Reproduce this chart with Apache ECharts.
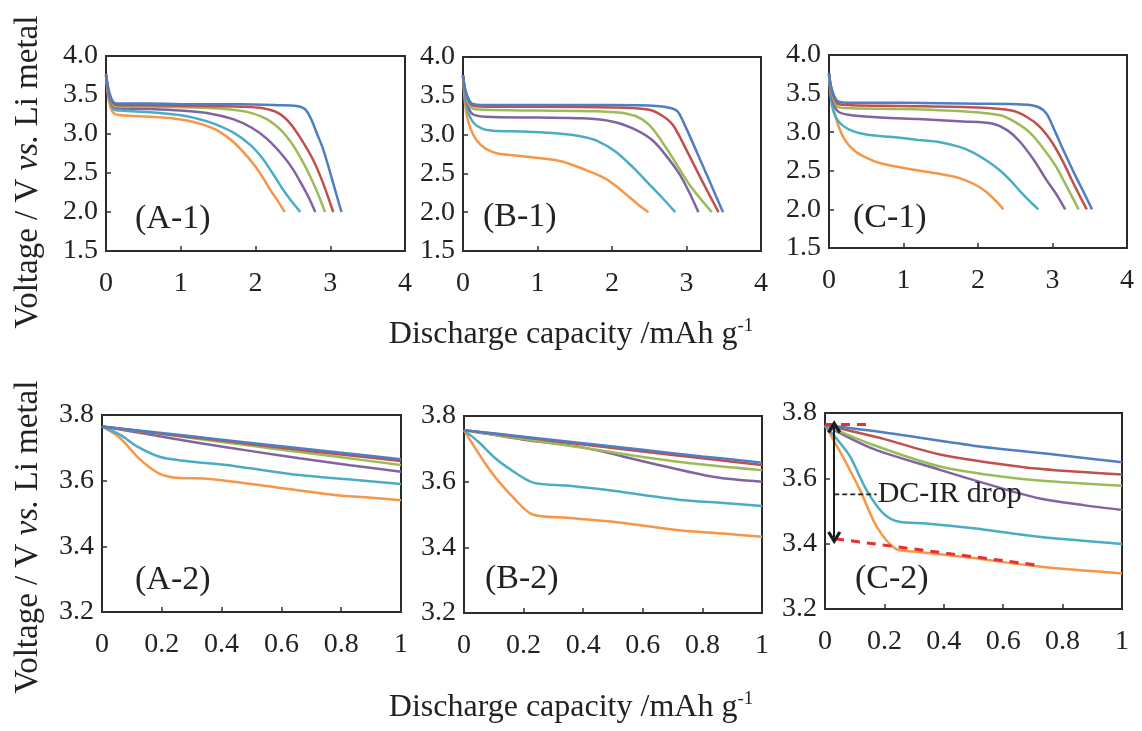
<!DOCTYPE html>
<html>
<head>
<meta charset="utf-8">
<script src="https://cdn.jsdelivr.net/npm/echarts@6/dist/echarts.min.js"></script>
<style>
  html, body { margin: 0; padding: 0; background: #fff; }
  #chart { width: 1142px; height: 731px; }
</style>
</head>
<body>
<div id="chart"></div>
<script>
// ---- Discharge curves, full range (capacity mAh/g, voltage V) ----
const a1Blue   = [[0,3.76],[0.04,3.55],[0.1,3.41],[0.2,3.39],[0.6,3.39],[1.2,3.38],[1.8,3.38],[2.3,3.37],[2.55,3.36],[2.66,3.32],[2.74,3.2],[2.82,3.01],[2.9,2.82],[2.97,2.6],[3.06,2.3],[3.15,2.0]];
const a1Red    = [[0,3.76],[0.04,3.53],[0.1,3.39],[0.2,3.37],[0.6,3.37],[1.2,3.36],[1.8,3.35],[2.1,3.33],[2.3,3.27],[2.46,3.14],[2.6,2.95],[2.77,2.67],[2.9,2.38],[3.04,2.0]];
const a1Green  = [[0,3.76],[0.04,3.52],[0.1,3.37],[0.2,3.35],[0.6,3.35],[1.2,3.34],[1.6,3.32],[1.9,3.28],[2.15,3.19],[2.35,3.04],[2.5,2.86],[2.6,2.7],[2.7,2.52],[2.82,2.27],[2.93,2.0]];
const a1Purple = [[0,3.76],[0.04,3.5],[0.1,3.35],[0.2,3.33],[0.6,3.32],[1.0,3.3],[1.4,3.26],[1.7,3.19],[1.95,3.08],[2.15,2.94],[2.35,2.74],[2.5,2.55],[2.62,2.35],[2.72,2.17],[2.8,2.0]];
const a1Cyan   = [[0,3.76],[0.04,3.47],[0.1,3.32],[0.2,3.3],[0.6,3.28],[1.0,3.24],[1.25,3.19],[1.45,3.13],[1.7,3.02],[1.93,2.86],[2.1,2.68],[2.24,2.48],[2.36,2.3],[2.48,2.14],[2.6,2.0]];
const a1Orange = [[0,3.76],[0.04,3.42],[0.1,3.27],[0.2,3.24],[0.6,3.22],[0.9,3.2],[1.1,3.17],[1.3,3.12],[1.5,3.04],[1.7,2.9],[1.9,2.7],[2.06,2.5],[2.2,2.28],[2.3,2.14],[2.39,2.0]];

const b1Blue   = [[0,3.76],[0.04,3.55],[0.12,3.4],[0.3,3.38],[1,3.38],[2,3.38],[2.6,3.37],[2.8,3.34],[2.88,3.3],[2.95,3.18],[3.2,2.64],[3.49,2.0]];
const b1Red    = [[0,3.76],[0.04,3.53],[0.12,3.38],[0.3,3.36],[1,3.36],[2,3.35],[2.5,3.32],[2.68,3.24],[2.82,3.12],[3.0,2.8],[3.2,2.42],[3.43,2.0]];
const b1Green  = [[0,3.76],[0.04,3.5],[0.12,3.34],[0.3,3.32],[1,3.31],[1.8,3.3],[2.2,3.27],[2.4,3.2],[2.56,3.06],[2.8,2.72],[3.05,2.34],[3.34,2.0]];
const b1Purple = [[0,3.76],[0.04,3.47],[0.12,3.27],[0.3,3.23],[1,3.22],[1.6,3.21],[2.0,3.17],[2.3,3.07],[2.55,2.92],[2.75,2.7],[2.9,2.5],[3.03,2.27],[3.16,2.0]];
const b1Cyan   = [[0,3.76],[0.04,3.4],[0.12,3.18],[0.25,3.08],[0.4,3.05],[0.8,3.04],[1.2,3.02],[1.57,2.98],[1.8,2.92],[2.05,2.78],[2.28,2.58],[2.5,2.36],[2.68,2.18],[2.85,2.0]];
const b1Orange = [[0,3.76],[0.04,3.3],[0.1,3.08],[0.18,2.93],[0.3,2.82],[0.45,2.76],[0.7,2.73],[0.9,2.71],[1.3,2.66],[1.66,2.54],[1.9,2.44],[2.05,2.34],[2.2,2.22],[2.35,2.1],[2.49,2.0]];

const c1Blue   = [[0,3.76],[0.04,3.55],[0.12,3.4],[0.3,3.38],[1,3.38],[2,3.37],[2.6,3.36],[2.8,3.33],[2.92,3.24],[3.02,3.04],[3.15,2.76],[3.3,2.45],[3.42,2.22],[3.53,2.0]];
const c1Red    = [[0,3.76],[0.04,3.53],[0.12,3.37],[0.3,3.35],[1,3.34],[2,3.32],[2.45,3.28],[2.65,3.2],[2.83,3.07],[3.0,2.86],[3.15,2.6],[3.3,2.3],[3.46,2.0]];
const c1Green  = [[0,3.76],[0.04,3.5],[0.12,3.33],[0.3,3.31],[1,3.3],[1.8,3.27],[2.3,3.22],[2.5,3.13],[2.7,2.99],[2.9,2.76],[3.05,2.55],[3.2,2.28],[3.35,2.0]];
const c1Purple = [[0,3.76],[0.04,3.45],[0.12,3.27],[0.3,3.22],[0.7,3.19],[1.2,3.17],[1.8,3.14],[2.2,3.11],[2.4,3.02],[2.56,2.88],[2.75,2.64],[2.92,2.38],[3.05,2.2],[3.17,2.0]];
const c1Cyan   = [[0,3.76],[0.04,3.35],[0.12,3.15],[0.28,3.03],[0.5,2.97],[0.82,2.94],[1.2,2.9],[1.49,2.87],[1.75,2.81],[1.93,2.74],[2.12,2.63],[2.3,2.5],[2.45,2.36],[2.56,2.24],[2.7,2.1],[2.81,2.0]];
const c1Orange = [[0,3.76],[0.03,3.45],[0.1,3.16],[0.2,2.92],[0.33,2.77],[0.5,2.67],[0.68,2.6],[1.04,2.53],[1.49,2.46],[1.7,2.42],[1.85,2.37],[2.0,2.3],[2.12,2.22],[2.25,2.1],[2.34,2.0]];

// ---- Initial part of discharge (0 - 1 mAh/g) ----
const a2Blue   = [[0,3.765],[0.2,3.745],[0.4,3.725],[0.6,3.705],[0.8,3.685],[1,3.665]];
const a2Red    = [[0,3.765],[0.2,3.743],[0.4,3.722],[0.6,3.7],[0.8,3.68],[1,3.66]];
const a2Green  = [[0,3.765],[0.2,3.742],[0.4,3.718],[0.6,3.694],[0.8,3.671],[1,3.648]];
const a2Purple = [[0,3.765],[0.15,3.742],[0.33,3.714],[0.5,3.69],[0.66,3.668],[0.83,3.647],[1,3.627]];
const a2Cyan   = [[0,3.765],[0.06,3.74],[0.12,3.703],[0.195,3.672],[0.28,3.66],[0.44,3.645],[0.66,3.617],[0.85,3.602],[1,3.59]];
const a2Orange = [[0,3.765],[0.06,3.73],[0.127,3.665],[0.195,3.62],[0.26,3.608],[0.35,3.606],[0.55,3.584],[0.77,3.557],[0.9,3.548],[1,3.54]];

const b2Blue   = [[0,3.757],[0.2,3.737],[0.4,3.717],[0.6,3.697],[0.8,3.677],[1,3.658]];
const b2Red    = [[0,3.757],[0.2,3.735],[0.4,3.713],[0.6,3.692],[0.8,3.671],[1,3.651]];
const b2Green  = [[0,3.757],[0.2,3.73],[0.4,3.703],[0.6,3.675],[0.8,3.652],[1,3.635]];
const b2Purple = [[0,3.757],[0.2,3.728],[0.39,3.706],[0.61,3.66],[0.84,3.614],[1,3.6]];
const b2Cyan   = [[0,3.757],[0.05,3.72],[0.1,3.675],[0.143,3.645],[0.23,3.598],[0.345,3.588],[0.5,3.572],[0.72,3.545],[0.87,3.535],[1,3.526]];
const b2Orange = [[0,3.757],[0.087,3.635],[0.165,3.552],[0.23,3.5],[0.345,3.49],[0.5,3.478],[0.72,3.452],[0.87,3.442],[1,3.432]];

const c2Blue   = [[0,3.763],[0.2,3.74],[0.5,3.70],[0.75,3.675],[1,3.649]];
const c2Red    = [[0,3.763],[0.2,3.72],[0.387,3.673],[0.67,3.634],[0.85,3.62],[1,3.612]];
const c2Green  = [[0,3.763],[0.163,3.702],[0.387,3.636],[0.556,3.61],[0.72,3.593],[1,3.577]];
const c2Purple = [[0,3.763],[0.163,3.69],[0.387,3.626],[0.556,3.58],[0.72,3.539],[0.87,3.518],[1,3.503]];
const c2Cyan   = [[0,3.763],[0.04,3.72],[0.085,3.666],[0.14,3.564],[0.196,3.493],[0.25,3.467],[0.34,3.462],[0.5,3.447],[0.72,3.421],[1,3.399]];
const c2Orange = [[0,3.763],[0.06,3.666],[0.118,3.564],[0.174,3.452],[0.24,3.383],[0.3,3.376],[0.5,3.356],[0.72,3.33],[1,3.309]];

// ---- DC-IR drop annotation (C-2) ----
const dcirTopLine    = [[0,3.765],[0.145,3.765]];
const dcirBottomLine = [[0.034,3.415],[0.71,3.335]];
const dcirArrow      = [[0.031,3.758],[0.031,3.418]];
const dcirLead       = [[0.031,3.551],[0.174,3.551]];
const dcirText       = 'DC-IR drop';

// ---- Tick settings and labels ----
const fullXTicks = { min: 0, max: 4, interval: 1 };
const fullYTicks = { min: 1.5, max: 4.0, interval: 0.5 };
const zoomXTicks = { min: 0, max: 1, interval: 0.2 };
const zoomYTicks = { min: 3.2, max: 3.8, interval: 0.2 };
const panelNames = ['(A-1)', '(B-1)', '(C-1)', '(A-2)', '(B-2)', '(C-2)'];
const yTitle = ['Voltage / V ', 'vs.', ' Li metal'];
const xTitle = ['Discharge capacity /mAh g', '-1'];

const lineColors = ['#4f7ec3', '#c0504d', '#9bbb59', '#8064a2', '#4bacc6', '#f79646'];
const SERIF = '"Liberation Serif", "Times New Roman", serif';
const INK = '#222';

const panels = [
  { grid: { left: 106, top: 56, width: 299, height: 195 }, x: fullXTicks, y: fullYTicks,
    lines: [a1Blue, a1Red, a1Green, a1Purple, a1Cyan, a1Orange], tag: [135, 219] },
  { grid: { left: 463, top: 57, width: 298, height: 194 }, x: fullXTicks, y: fullYTicks,
    lines: [b1Blue, b1Red, b1Green, b1Purple, b1Cyan, b1Orange], tag: [483, 217] },
  { grid: { left: 829, top: 55, width: 298, height: 193 }, x: fullXTicks, y: fullYTicks,
    lines: [c1Blue, c1Red, c1Green, c1Purple, c1Cyan, c1Orange], tag: [853, 218] },
  { grid: { left: 102, top: 415, width: 299, height: 197 }, x: zoomXTicks, y: zoomYTicks,
    lines: [a2Blue, a2Red, a2Green, a2Purple, a2Cyan, a2Orange], tag: [135, 580] },
  { grid: { left: 464, top: 416, width: 298, height: 197 }, x: zoomXTicks, y: zoomYTicks,
    lines: [b2Blue, b2Red, b2Green, b2Purple, b2Cyan, b2Orange], tag: [485, 579] },
  { grid: { left: 825, top: 413, width: 297, height: 196 }, x: zoomXTicks, y: zoomYTicks,
    lines: [c2Blue, c2Red, c2Green, c2Purple, c2Cyan, c2Orange], tag: [855, 579] }
];

function xFmt(v) {
  if (Math.abs(v) < 1e-9) return '0';
  if (Math.abs(v - Math.round(v)) < 1e-9) return String(Math.round(v));
  return v.toFixed(1);
}

const axisCommon = {
  axisLine: { show: false },
  splitLine: { show: false },
  axisTick: { show: true, inside: true, length: 5, lineStyle: { color: '#333', width: 1.5 } },
  axisLabel: { color: INK, fontFamily: SERIF, fontSize: 28 }
};

const grids = [], xAxes = [], yAxes = [], series = [], graphics = [];

panels.forEach((p, i) => {
  grids.push(Object.assign({ show: true, borderColor: '#2a2a2a', borderWidth: 2, backgroundColor: 'transparent' }, p.grid));
  xAxes.push(Object.assign({}, axisCommon, {
    type: 'value', gridIndex: i, min: p.x.min, max: p.x.max, interval: p.x.interval,
    axisLabel: Object.assign({}, axisCommon.axisLabel, { margin: 19, formatter: xFmt })
  }));
  yAxes.push(Object.assign({}, axisCommon, {
    type: 'value', gridIndex: i, min: p.y.min, max: p.y.max, interval: p.y.interval,
    axisLabel: Object.assign({}, axisCommon.axisLabel, { margin: 8, formatter: v => v.toFixed(1) })
  }));
  p.lines.forEach((d, k) => {
    series.push({
      type: 'line', xAxisIndex: i, yAxisIndex: i, data: d,
      showSymbol: false, smooth: 0.3,
      lineStyle: { color: lineColors[k], width: 2.5 },
      z: 10 - k
    });
  });
  graphics.push({
    type: 'text', x: p.tag[0], y: p.tag[1],
    style: { text: panelNames[i], fontFamily: SERIF, fontSize: 34, fill: INK, align: 'left', verticalAlign: 'middle' }
  });
});

// DC-IR drop markers on the C-2 panel
const chevron = 'path://M5,0 L10,8.5 L8,9.6 L5,4.4 L2,9.6 L0,8.5 Z';
series.push(
  { type: 'line', xAxisIndex: 5, yAxisIndex: 5, data: dcirTopLine, showSymbol: false, z: 20,
    lineStyle: { color: '#e53030', width: 3, type: [9, 7] } },
  { type: 'line', xAxisIndex: 5, yAxisIndex: 5, data: dcirBottomLine, showSymbol: false, z: 20,
    lineStyle: { color: '#e53030', width: 3, type: [9, 7] } },
  { type: 'line', xAxisIndex: 5, yAxisIndex: 5, data: dcirLead, showSymbol: false, z: 21,
    lineStyle: { color: '#222', width: 1.6, type: [5, 3] },
    endLabel: { show: true, formatter: dcirText, fontFamily: SERIF, fontSize: 30, color: INK, distance: 1 },
    markLine: {
      silent: true, animation: false, z: 30,
      symbol: [chevron, chevron], symbolSize: [14, 13], symbolOffset: [0, 0],
      label: { show: false },
      lineStyle: { color: '#1a1a1a', width: 2, type: 'solid' },
      data: [[{ coord: dcirArrow[0] }, { coord: dcirArrow[1] }]]
    } }
);

// Axis titles
const richTitle = {
  r: { fontFamily: SERIF, fontSize: 33, fill: INK, color: INK, lineHeight: 38 },
  i: { fontFamily: SERIF, fontSize: 33, fontStyle: 'italic', fill: INK, color: INK, lineHeight: 38 }
};
[172, 537].forEach(cy => {
  graphics.push({
    type: 'text', x: 28, y: cy, rotation: Math.PI / 2,
    style: { text: '{r|' + yTitle[0] + '}{i|' + yTitle[1] + '}{r|' + yTitle[2] + '}', rich: richTitle, align: 'center', verticalAlign: 'middle' }
  });
});
const richX = {
  r: { fontFamily: SERIF, fontSize: 32, fill: INK, color: INK, lineHeight: 36 },
  s: { fontFamily: SERIF, fontSize: 19, fill: INK, color: INK, verticalAlign: 'top' }
};
[335, 708].forEach(cy => {
  graphics.push({
    type: 'text', x: 571, y: cy,
    style: { text: '{r|' + xTitle[0] + '}{s|' + xTitle[1] + '}', rich: richX, align: 'center', verticalAlign: 'middle' }
  });
});

const chart = echarts.init(document.getElementById('chart'), null, { renderer: 'canvas' });
chart.setOption({
  backgroundColor: '#fff',
  animation: false,
  grid: grids,
  xAxis: xAxes,
  yAxis: yAxes,
  series: series,
  graphic: graphics
});
</script>
</body>
</html>
